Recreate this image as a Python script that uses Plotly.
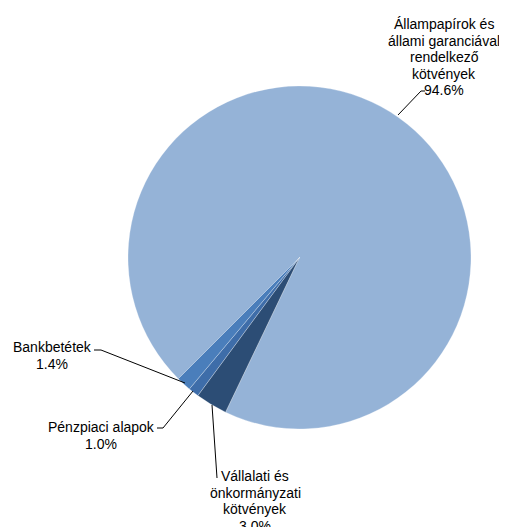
import plotly.graph_objects as go

# browser window size and the default 8px page margin
WIN_W, WIN_H = 507, 527
OFF = 8
W, H = WIN_W - OFF, WIN_H - OFF

labels = ["Állampapírok és állami garanciával rendelkező kötvények",
          "Vállalati és önkormányzati kötvények",
          "Pénzpiaci alapok",
          "Bankbetétek"]
values = [94.6, 3.0, 1.0, 1.4]
colors = ["#95B3D7", "#2C4D75", "#3E6DA9", "#4A7EBB"]

# label text lines (display), position of the label block and its leader path (window pixels)
label_lines = [
    ["Állampapírok és", "állami garanciával", "rendelkező", "kötvények", "94.6%"],
    ["Vállalati és", "önkormányzati", "kötvények", "3.0%"],
    ["Pénzpiaci alapok", "1.0%"],
    ["Bankbetétek", "1.4%"],
]
label_pos = [(444, 24), (255, 476), (101, 427), (52, 347)]
leaders = [
    [(398, 115), (421, 91), (425, 91)],
    [(212, 405), (217, 478)],
    [(193, 391), (163, 428), (157, 428)],
    [(185, 383), (101, 350), (94, 350)],
]
line_step = 16.5

def px(x):
    return (x - OFF) / W

def py(y):
    return 1 - (y - OFF) / H

fig = go.Figure(go.Pie(
    labels=labels,
    values=values,
    sort=False,
    direction="clockwise",
    rotation=225,
    marker=dict(colors=colors, line=dict(color="rgba(255,255,255,0.45)", width=0.6)),
    textinfo="none",
    hoverinfo="label+percent",
    showlegend=False,
    domain=dict(x=[px(128), px(471)], y=[py(429), py(86)]),
))

annotations = []
for lines, (cx, cy) in zip(label_lines, label_pos):
    for i, t in enumerate(lines):
        annotations.append(dict(
            x=px(cx), y=py(cy + i * line_step), xref="paper", yref="paper",
            text=t, showarrow=False, xanchor="center", yanchor="middle",
            font=dict(family="Liberation Sans, Arial, sans-serif", size=14, color="#000000"),
        ))

shapes = []
for pts in leaders:
    d = "M " + " L ".join(f"{px(x)},{py(y)}" for x, y in pts)
    shapes.append(dict(type="path", path=d, xref="paper", yref="paper",
                       line=dict(color="#000000", width=1)))

fig.update_layout(
    width=W, height=H,
    margin=dict(l=0, r=0, t=0, b=0),
    paper_bgcolor="white", plot_bgcolor="white",
    annotations=annotations,
    shapes=shapes,
)

fig.write_html("out.html")
